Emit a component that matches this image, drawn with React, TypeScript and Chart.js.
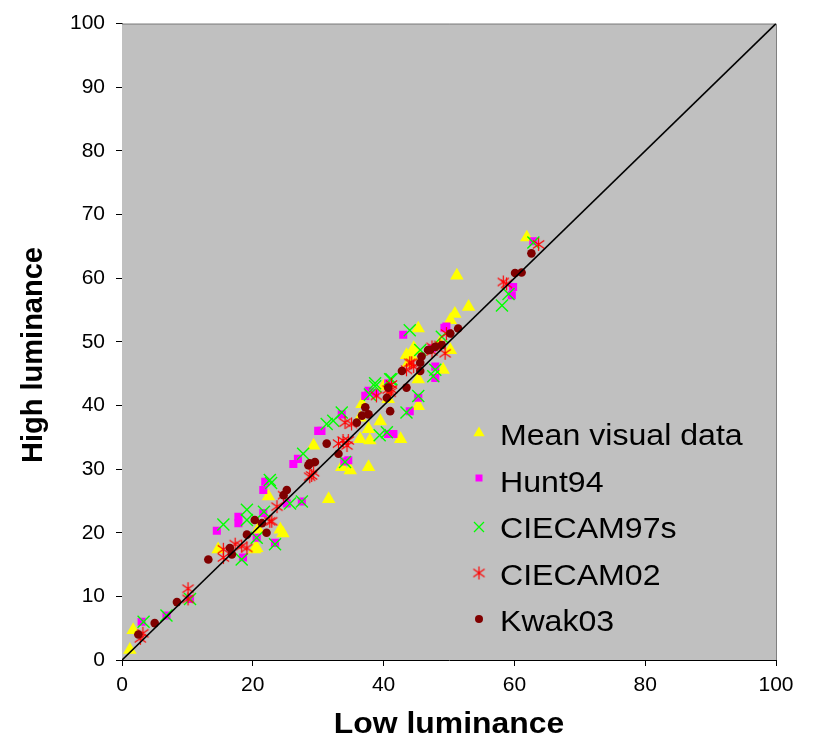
import React, { useEffect, useRef } from 'react';
import { Chart, registerables } from 'chart.js';

Chart.register(...registerables);

const FONT = 'Arial, "Liberation Sans", Helvetica, sans-serif';

const seriesNames = ['Mean visual data', 'Hunt94', 'CIECAM97s', 'CIECAM02', 'Kwak03'];
const xTickValues = [0, 20, 40, 60, 80, 100];
const yTickValues = [0, 10, 20, 30, 40, 50, 60, 70, 80, 90, 100];
const xTitle = 'Low luminance';
const yTitle = 'High luminance';

// Mean visual data
const meanX = [1.2, 1.7, 14.7, 20.3, 20.6, 20.8, 24.2, 24.6, 22.4, 31.6, 29.3, 37.7, 33.6, 34.9, 36.4, 37.9, 42.6, 37.7, 36.4, 40.7, 45.3, 43.5, 44.6, 36.7, 40.0, 51.2, 53.0, 50.9, 50.2, 45.3, 44.8, 44.3, 43.8, 50.2, 49.1, 45.3, 61.9, 39.5, 48.6];
const meanY = [1.6, 4.7, 17.4, 17.4, 17.6, 20.5, 20.5, 19.9, 25.7, 25.3, 33.7, 30.3, 30.3, 29.8, 34.7, 34.5, 34.7, 36.3, 38.1, 41.0, 39.9, 47.9, 49.0, 40.2, 43.0, 60.4, 55.5, 54.4, 53.4, 52.1, 48.7, 47.7, 46.7, 48.7, 45.6, 44.1, 66.4, 37.5, 49.8];

// Hunt94
const huntX = [3.0, 6.8, 10.4, 14.5, 17.8, 17.8, 18.5, 20.6, 21.6, 21.6, 21.9, 23.4, 25.2, 27.5, 26.2, 26.9, 30.0, 30.5, 33.6, 34.6, 34.0, 37.2, 37.7, 40.7, 41.5, 44.0, 45.3, 47.9, 43.0, 49.6, 49.3, 59.8, 59.6, 62.9, 47.9, 40.7, 38.7, 47.4];
const huntY = [6.0, 7.0, 9.6, 20.3, 22.5, 21.5, 16.1, 19.2, 23.1, 26.7, 28.0, 18.4, 24.6, 24.9, 30.8, 31.6, 36.0, 36.0, 38.6, 31.4, 31.2, 41.5, 42.3, 35.5, 35.5, 39.1, 41.2, 44.3, 51.1, 52.4, 52.2, 58.6, 57.3, 65.8, 46.1, 43.5, 42.0, 49.0];

// CIECAM97s
const cam97X = [3.3, 6.8, 10.4, 15.5, 18.3, 19.1, 19.1, 20.6, 21.7, 22.6, 22.8, 23.4, 25.7, 27.5, 27.7, 31.3, 32.3, 33.6, 34.1, 37.9, 38.7, 39.4, 40.5, 41.2, 43.5, 45.3, 45.6, 47.6, 47.9, 44.0, 48.9, 38.7, 41.0, 58.1, 59.1, 62.9];
const cam97Y = [6.0, 7.0, 9.6, 21.3, 15.8, 23.6, 22.0, 19.2, 23.3, 28.3, 27.8, 18.2, 24.6, 24.9, 32.4, 37.1, 37.6, 38.9, 31.1, 41.7, 43.0, 35.3, 35.8, 44.1, 38.9, 41.5, 48.7, 44.6, 45.6, 51.8, 50.8, 43.5, 44.1, 55.7, 57.5, 65.6];

// CIECAM02
const cam02X = [2.8, 3.2, 10.1, 10.1, 15.5, 15.5, 17.3, 18.3, 19.1, 22.6, 22.9, 23.7, 24.7, 29.0, 28.7, 29.3, 33.1, 33.8, 34.4, 34.6, 34.1, 35.1, 38.9, 41.2, 41.0, 40.7, 44.0, 44.3, 44.6, 43.5, 47.4, 47.4, 48.6, 49.6, 49.4, 41.2, 58.3, 58.8, 63.7];
const cam02Y = [3.4, 4.2, 11.2, 9.6, 17.4, 16.1, 18.2, 17.9, 17.6, 21.8, 21.8, 24.1, 25.9, 29.0, 28.8, 29.5, 34.0, 34.5, 33.7, 34.5, 37.3, 37.1, 41.5, 42.5, 42.0, 42.5, 46.7, 46.7, 46.1, 45.6, 48.5, 49.2, 49.5, 51.3, 48.2, 43.3, 59.4, 59.1, 65.3];

// Kwak03
const kwakX = [2.5, 5.0, 8.4, 13.2, 16.5, 16.8, 19.1, 20.3, 21.4, 22.1, 24.7, 25.2, 28.5, 29.5, 28.7, 31.3, 33.1, 35.9, 36.7, 37.7, 37.2, 41.0, 40.5, 40.7, 43.5, 42.8, 45.6, 45.6, 45.8, 46.8, 47.1, 47.9, 48.9, 50.2, 51.4, 60.1, 61.1, 62.6];
const kwakY = [4.0, 5.8, 9.1, 15.8, 17.6, 16.6, 19.7, 22.0, 21.5, 20.0, 25.9, 26.7, 30.6, 31.1, 30.9, 34.0, 32.4, 37.3, 38.4, 38.6, 39.7, 39.1, 41.2, 42.8, 42.8, 45.4, 45.4, 46.7, 47.7, 48.7, 48.7, 49.2, 49.5, 51.3, 52.1, 60.8, 60.9, 63.9];

const diagX = [0, 100];
const diagY = [0, 100];

const toPoints = (xs: number[], ys: number[]) => xs.map((x, i) => ({ x, y: ys[i] }));

function makeAsterisk(size: number, color: string, lw: number) {
  const c = document.createElement('canvas');
  c.width = size;
  c.height = size;
  const g = c.getContext('2d')!;
  const m = size / 2;
  const r = size / 2 - 1;
  g.strokeStyle = color;
  g.lineWidth = lw;
  g.beginPath();
  g.moveTo(m, m - r);
  g.lineTo(m, m + r);
  const dx = r * 0.87, dy = r * 0.62;
  g.moveTo(m - dx, m - dy);
  g.lineTo(m + dx, m + dy);
  g.moveTo(m - dx, m + dy);
  g.lineTo(m + dx, m - dy);
  g.stroke();
  return c;
}

function stretchedText(ctx: CanvasRenderingContext2D, text: string, x: number, y: number, sx: number) {
  ctx.save();
  ctx.translate(x, y);
  ctx.scale(sx, 1);
  ctx.fillText(text, 0, 0);
  ctx.restore();
}

const App: React.FC = () => {
  const ref = useRef<HTMLCanvasElement | null>(null);

  useEffect(() => {
    document.body.style.margin = '0';
    const canvas = ref.current;
    if (!canvas) return;
    const asterisk = makeAsterisk(15, '#FF0000', 1.2);

    const framePlugin = {
      id: 'frame',
      beforeDatasetsDraw(chart: any) {
        const { ctx, chartArea: a } = chart;
        ctx.save();
        ctx.fillStyle = '#C0C0C0';
        ctx.fillRect(a.left, a.top, a.right - a.left, a.bottom - a.top);
        ctx.strokeStyle = '#808080';
        ctx.lineWidth = 1;
        ctx.beginPath();
        ctx.moveTo(a.left, a.top + 0.5);
        ctx.lineTo(a.right + 0.5, a.top + 0.5);
        ctx.lineTo(a.right + 0.5, a.bottom);
        ctx.stroke();
        ctx.restore();
      },
      afterDraw(chart: any) {
        const { ctx, chartArea: a } = chart;
        ctx.save();
        ctx.fillStyle = '#000';
        ctx.textAlign = 'center';
        ctx.textBaseline = 'alphabetic';
        // axis titles
        ctx.font = `bold 29px ${FONT}`;
        stretchedText(ctx, xTitle, (a.left + a.right) / 2, 733, 1.1);
        ctx.save();
        ctx.translate(34, 355);
        ctx.rotate(-Math.PI / 2);
        ctx.textBaseline = 'middle';
        ctx.font = `bold 29px ${FONT}`;
        ctx.fillText(yTitle, 0, 0);
        ctx.restore();

        // legend
        const mx = 479;
        const baselines = [445, 491.5, 538, 584.5, 631];
        const centers = [433, 478, 527, 573, 619];
        ctx.font = `30px ${FONT}`;
        ctx.textAlign = 'left';
        ctx.textBaseline = 'alphabetic';
        seriesNames.forEach((name, i) => {
          ctx.fillStyle = '#000';
          stretchedText(ctx, name, 500, baselines[i], 1.07);
          const cy = centers[i];
          ctx.beginPath();
          if (i === 0) {
            const r = 6.5;
            ctx.moveTo(mx, cy - r);
            ctx.lineTo(mx + r * 0.866, cy + r * 0.5);
            ctx.lineTo(mx - r * 0.866, cy + r * 0.5);
            ctx.closePath();
            ctx.fillStyle = '#FFFF00';
            ctx.fill();
          } else if (i === 1) {
            ctx.fillStyle = '#FF00FF';
            ctx.fillRect(mx - 3.5, cy - 3.5, 7, 7);
          } else if (i === 2) {
            ctx.strokeStyle = '#00FF00';
            ctx.lineWidth = 1.3;
            ctx.moveTo(mx - 5, cy - 5);
            ctx.lineTo(mx + 5, cy + 5);
            ctx.moveTo(mx - 5, cy + 5);
            ctx.lineTo(mx + 5, cy - 5);
            ctx.stroke();
          } else if (i === 3) {
            ctx.drawImage(asterisk, mx - 7.5, cy - 7.5);
          } else {
            ctx.fillStyle = '#800000';
            ctx.arc(mx, cy, 4, 0, Math.PI * 2);
            ctx.fill();
          }
        });
        ctx.restore();
      },
    };

    const chart = new Chart(canvas, {
      type: 'scatter',
      data: {
        datasets: [
          {
            label: 'diagonal',
            data: toPoints(diagX, diagY),
            showLine: true,
            borderColor: '#000000',
            borderWidth: 1.6,
            pointRadius: 0,
            order: 0,
          } as any,
          {
            label: seriesNames[0],
            data: toPoints(meanX, meanY),
            pointStyle: 'triangle',
            pointRadius: 7.8,
            backgroundColor: '#FFFF00',
            borderColor: '#FFFF00',
            borderWidth: 0,
            order: 5,
          },
          {
            label: seriesNames[1],
            data: toPoints(huntX, huntY),
            pointStyle: 'rect',
            pointRadius: 5.7,
            backgroundColor: '#FF00FF',
            borderColor: '#FF00FF',
            borderWidth: 0,
            order: 4,
          },
          {
            label: seriesNames[2],
            data: toPoints(cam97X, cam97Y),
            pointStyle: 'crossRot',
            pointRadius: 8.5,
            backgroundColor: '#00FF00',
            borderColor: '#00FF00',
            borderWidth: 1.4,
            order: 3,
          },
          {
            label: seriesNames[3],
            data: toPoints(cam02X, cam02Y),
            pointStyle: asterisk as any,
            pointRadius: 7,
            backgroundColor: '#FF0000',
            borderColor: '#FF0000',
            order: 2,
          },
          {
            label: seriesNames[4],
            data: toPoints(kwakX, kwakY),
            pointStyle: 'circle',
            pointRadius: 4.3,
            backgroundColor: '#800000',
            borderColor: '#800000',
            borderWidth: 0,
            order: 1,
          },
        ],
      },
      options: {
        animation: false,
        responsive: false,
        devicePixelRatio: 1,
        events: [],
        layout: { padding: { left: 0, top: 17, right: 37, bottom: 0 } },
        plugins: {
          legend: { display: false },
          tooltip: { enabled: false },
        },
        scales: {
          x: {
            type: 'linear',
            min: 0,
            max: 100,
            afterFit: (s: any) => { s.height = 78; },
            afterBuildTicks: (s: any) => { s.ticks = xTickValues.map((v) => ({ value: v })); },
            grid: { drawOnChartArea: false, drawTicks: true, tickLength: 6, color: '#000000' },
            border: { color: '#000000', width: 1 },
            ticks: { font: { family: FONT, size: 21 }, color: '#000000', padding: 7, maxRotation: 0 },
          },
          y: {
            type: 'linear',
            min: 0,
            max: 100,
            afterFit: (s: any) => { s.width = 122; },
            afterBuildTicks: (s: any) => { s.ticks = yTickValues.map((v) => ({ value: v })); },
            grid: { drawOnChartArea: false, drawTicks: true, tickLength: 6, color: '#000000' },
            border: { color: '#000000', width: 1 },
            ticks: { font: { family: FONT, size: 21 }, color: '#000000', padding: 11 },
          },
        },
      },
      plugins: [framePlugin],
    });
    return () => chart.destroy();
  }, []);

  return (
    <div style={{ width: 813, height: 738, background: '#FFFFFF' }}>
      <canvas ref={ref} width={813} height={738} style={{ display: 'block' }} />
    </div>
  );
};

export default App;
